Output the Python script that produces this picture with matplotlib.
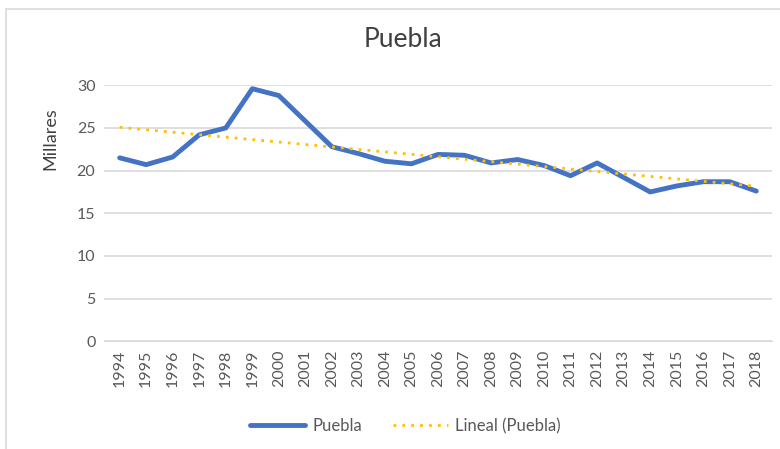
import numpy as np
import matplotlib.pyplot as plt

plt.rcParams['font.family'] = ['Lato', 'DejaVu Sans']

years = list(range(1994, 2019))
puebla = [21.5, 20.7, 21.6, 24.2, 25.0, 29.6, 28.8, 25.8, 22.8, 22.0, 21.1, 20.8,
          21.9, 21.8, 20.9, 21.3, 20.6, 19.4, 20.9, 19.2, 17.5, 18.2, 18.7, 18.7, 17.6]

x = np.arange(len(years))
coef = np.polyfit(x, puebla, 1)
trend = np.polyval(coef, x)

fig = plt.figure(figsize=(7.8, 4.49), dpi=100)
ax = fig.add_axes([0.133, 0.24, 0.857, 0.57])

ax.plot(x, puebla, color='#4472C4', lw=3.5, label='Puebla', solid_capstyle='round', zorder=3)
ax.plot(x, trend, color='#FFC000', lw=2, ls=(0, (1, 2.2)), label='Lineal (Puebla)', zorder=4)

ax.set_xlim(-0.6, len(years) - 0.4)
ax.set_ylim(0, 30)
ax.set_yticks(range(0, 31, 5))
ax.set_xticks(x)
ax.set_xticklabels(years, rotation=90)
ax.grid(axis='y', color='#D9D9D9', lw=1.2)
ax.set_axisbelow(True)
for s in ['top', 'right', 'left']:
    ax.spines[s].set_visible(False)
ax.spines['bottom'].set_color('#D9D9D9')
ax.tick_params(length=0, labelsize=11.5, colors='#595959', pad=6)
ax.set_ylabel('Millares', fontsize=13, color='#404040')
ax.yaxis.set_label_coords(-0.068, 0.79)

fig.suptitle('Puebla', x=0.517, y=0.94, fontsize=19, color='#404040')
fig.legend(loc='lower center', bbox_to_anchor=(0.52, 0.0), ncol=2, frameon=False,
           fontsize=12, labelcolor='#595959', handlelength=3.3, handletextpad=0.4,
           columnspacing=1.9)

border = plt.Rectangle((0.008, -0.1), 1.2, 1.08, transform=fig.transFigure,
                       fill=False, edgecolor='#D9D9D9', lw=1.2)
fig.add_artist(border)

fig.savefig('out.png', dpi=100)
